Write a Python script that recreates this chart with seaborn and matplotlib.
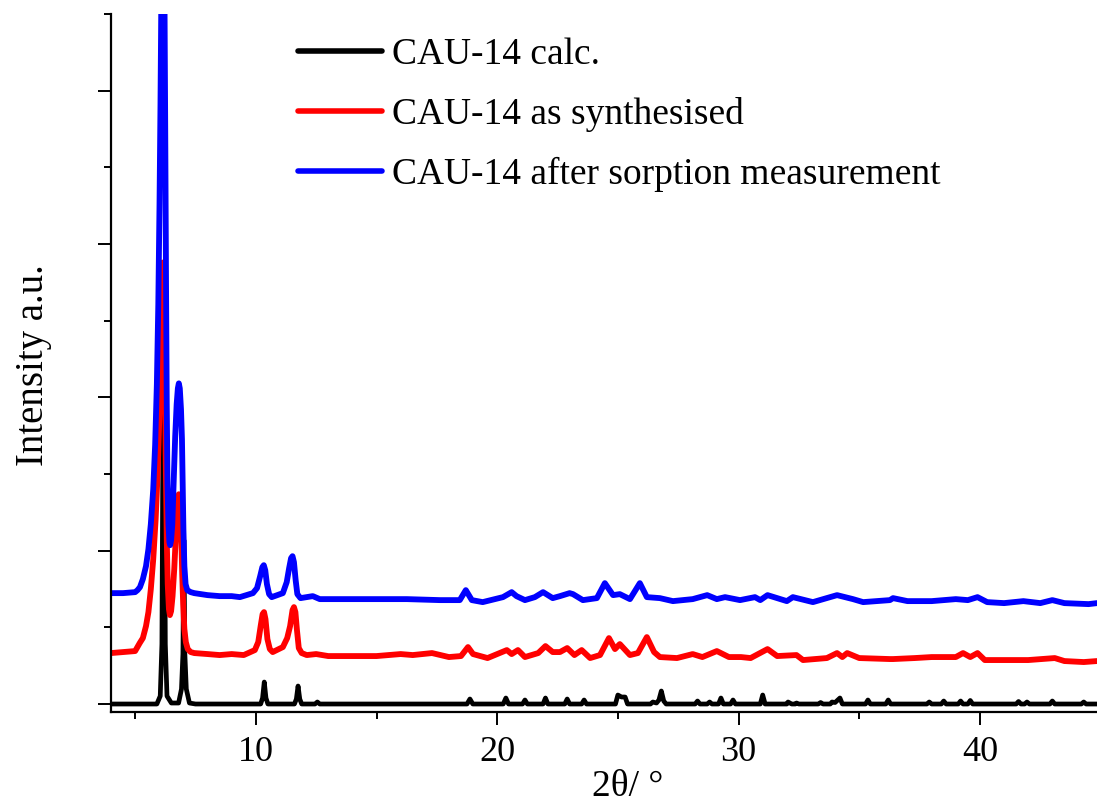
import matplotlib
matplotlib.use("Agg")
import matplotlib.pyplot as plt
import numpy as np
import pandas as pd
import seaborn as sns
from matplotlib.lines import Line2D
from matplotlib.ticker import MultipleLocator

# ---------------- data (2theta in degrees, intensity in a.u., stacked as plotted) ----------------
calc_2theta = [4.0, 5.9, 6.04, 6.11, 6.18, 6.25, 6.32, 6.5, 6.8, 6.92, 6.98, 7.02, 7.06, 7.12, 7.25, 7.5,
               10.2, 10.28, 10.35, 10.42, 10.5, 11.6, 11.68, 11.75, 11.82, 11.9, 12.45, 12.55, 12.65,
               18.75, 18.87, 18.99, 20.25, 20.36, 20.47, 21.05, 21.15, 21.25, 21.9, 22.0, 22.1,
               22.8, 22.9, 23.0, 23.5, 23.6, 23.7, 24.9, 25.0, 25.15, 25.3, 25.4,
               26.35, 26.45, 26.6, 26.7, 26.8, 26.9, 27.0, 28.2, 28.3, 28.4, 28.7, 28.8, 28.9,
               29.17, 29.27, 29.37, 29.67, 29.77, 29.87, 30.9, 31.0, 31.1, 32.0, 32.05, 32.2,
               32.35, 32.4, 32.5, 33.3, 33.4, 33.5, 33.8, 33.87, 34.0, 34.2, 34.3,
               35.26, 35.36, 35.46, 36.1, 36.2, 36.3, 37.8, 37.9, 38.0, 38.4, 38.5, 38.6,
               39.1, 39.2, 39.3, 39.5, 39.6, 39.7, 41.5, 41.6, 41.7, 41.85, 41.95, 42.05,
               42.9, 43.0, 43.1, 44.2, 44.3, 44.4, 45.0]
calc_int = [0, 0, 8, 60, 420, 60, 8, 1, 1, 15, 50, 164, 50, 15, 1, 0,
            0, 6, 22, 6, 0, 0, 5, 18, 5, 0, 0, 2, 0,
            0, 5, 0, 0, 6, 0, 0, 4, 0, 0, 6, 0,
            0, 5, 0, 0, 4, 0, 0, 9, 7, 7, 0,
            0, 2, 1, 4, 13, 3, 0, 0, 3, 0, 0, 2, 0,
            0, 6, 0, 0, 4, 0, 0, 9, 0, 0, 2, 0,
            0, 1, 0, 0, 1.5, 0, 0, 2, 1.5, 6, 0,
            0, 4, 0, 0, 4, 0, 0, 2, 0, 0, 3, 0,
            0, 3, 0, 0, 3.5, 0, 0, 2.5, 0, 0, 2, 0,
            0, 3, 0, 0, 2, 0, 0]

synth_2theta = [4.0, 4.5, 5.0, 5.19, 5.32, 5.45, 5.55, 5.65, 5.75, 5.85, 5.93, 6.0, 6.06, 6.11, 6.15,
                6.19, 6.23, 6.27, 6.31, 6.35, 6.4, 6.44, 6.49, 6.55, 6.62, 6.69, 6.75, 6.81, 6.86,
                6.91, 6.95, 6.99, 7.04, 7.1, 7.18, 7.3, 7.45,
                8.0, 8.5, 9.0, 9.5, 9.96, 10.1, 10.2, 10.28, 10.34, 10.4, 10.48, 10.58, 10.7,
                11.12, 11.3, 11.42, 11.52, 11.58, 11.64, 11.7, 11.78, 11.9,
                12.11, 12.5, 13.0, 14.0, 15.0, 16.0, 16.5, 17.3, 18.0, 18.5, 18.79, 19.0,
                19.6, 20.4, 20.6, 20.86, 21.15, 21.7, 22.0, 22.3, 22.6, 22.9, 23.2, 23.5, 23.85,
                24.26, 24.63, 24.88, 25.08, 25.5, 25.83, 26.2, 26.5, 26.74, 27.45, 28.1, 28.5,
                29.1, 29.6, 30.1, 30.5, 31.2, 31.6, 32.4, 32.67, 33.66, 34.08, 34.3, 34.5, 35.0,
                36.27, 36.4, 37.3, 38.0, 39.0, 39.3, 39.6, 39.9, 40.2, 41.0, 42.0, 43.1, 43.5,
                44.3, 44.85]
synth_int = [51, 52, 53, 61, 66, 78, 92, 115, 145, 185, 230, 285, 350, 410, 442,
             410, 330, 240, 165, 120, 95, 89, 93, 108, 135, 170, 198, 210, 200,
             170, 130, 100, 75, 62, 55, 52, 51,
             50, 49, 50, 49, 54, 62, 78, 90, 92, 85, 65, 55, 52,
             57, 66, 78, 94, 97, 92, 75, 56, 51,
             49, 50, 48, 48, 48, 50, 49, 51, 47, 48, 57, 50,
             46, 54, 50, 54, 47, 51, 58, 52, 52, 56, 49, 54, 46,
             49, 66, 55, 60, 49, 51, 67, 52, 47, 46, 50, 47,
             53, 47, 47, 46, 55, 48, 49, 44, 46, 51, 47, 51, 46,
             45, 45, 46, 47, 47, 51, 47, 51, 44, 44, 44, 46, 43,
             42, 43]

sorp_2theta = [4.0, 4.5, 5.0, 5.1, 5.2, 5.32, 5.45, 5.55, 5.65, 5.75, 5.83, 5.9, 5.96, 6.01, 6.05,
               6.08, 6.15, 6.22, 6.25, 6.28, 6.31, 6.34, 6.38, 6.42, 6.45, 6.49, 6.54, 6.6, 6.66,
               6.72, 6.77, 6.81, 6.85, 6.9, 6.94, 6.97, 7.0, 7.04, 7.09, 7.16, 7.3, 7.45,
               8.0, 8.5, 9.0, 9.34, 9.88, 10.05, 10.18, 10.27, 10.33, 10.39, 10.46, 10.55, 10.66,
               11.12, 11.28, 11.38, 11.46, 11.52, 11.58, 11.65, 11.72, 11.85,
               12.36, 12.65, 14.85, 16.26, 17.63, 18.45,
               18.7, 18.95, 19.4, 20.24, 20.6, 20.8, 21.15, 21.56, 21.9, 22.3, 22.6, 23.0, 23.14,
               23.55, 24.13, 24.46, 24.8, 25.08, 25.5, 25.91, 26.2, 26.74, 27.28, 28.1, 28.7,
               29.1, 29.44, 30.06, 30.68, 30.9, 31.2, 32.0, 32.25, 33.08, 34.08, 34.74, 35.16,
               36.27, 36.4, 37.0, 38.0, 39.0, 39.5, 39.9, 40.3, 41.0, 41.8, 42.5, 43.0, 43.5,
               44.5, 44.85]
sorp_int = [111, 111, 112, 114, 117, 125, 138, 155, 180, 215, 260, 320, 400, 500, 600,
            690, 760, 690, 560, 420, 300, 220, 180, 162, 159, 164, 180, 225, 268,
            300, 316, 321, 316, 295, 265, 220, 175, 138, 120, 114, 112, 111,
            109, 108, 108, 107, 111, 116, 128, 137, 139, 134, 120, 110, 107,
            111, 122, 136, 146, 148, 142, 124, 110, 106,
            108, 105, 105, 105, 104, 104,
            114, 104, 102, 107, 112, 108, 104, 107, 112, 106, 108, 111, 110,
            104, 106, 121, 109, 110, 105, 121, 107, 106, 103, 105, 109,
            105, 107, 104, 107, 104, 109, 103, 107, 102, 109, 105, 102,
            104, 106, 103, 103, 105, 104, 107, 102, 101, 103, 101, 104, 101,
            100, 101]

labels = ["CAU-14 calc.", "CAU-14 as synthesised", "CAU-14 after sorption measurement"]
colors = ["#000000", "#FF0000", "#0000FF"]
x_ticks = [10, 20, 30, 40]

# ---------------- figure ----------------
sns.set_theme(style="ticks")
plt.rcParams["font.family"] = ["Liberation Serif", "DejaVu Serif"]
plt.rcParams["text.color"] = "black"
plt.rcParams["axes.labelcolor"] = "black"
plt.rcParams["xtick.color"] = "black"
plt.rcParams["ytick.color"] = "black"

W, H = 1097, 802
fig = plt.figure(figsize=(W / 100, H / 100), dpi=100)
ax = fig.add_axes([111 / W, (H - 711.7) / H, 986 / W, 697.7 / H])
ax.set_facecolor("white")

df = pd.concat([
    pd.DataFrame({"2theta": calc_2theta, "intensity": calc_int, "pattern": labels[0]}),
    pd.DataFrame({"2theta": synth_2theta, "intensity": synth_int, "pattern": labels[1]}),
    pd.DataFrame({"2theta": sorp_2theta, "intensity": sorp_int, "pattern": labels[2]}),
], ignore_index=True)

sns.lineplot(data=df, x="2theta", y="intensity", hue="pattern", hue_order=labels,
             palette=dict(zip(labels, colors)), estimator=None, sort=False,
             linewidth=4.2, legend=False, ax=ax)
for ln in ax.lines:
    ln.set_solid_joinstyle("round")
    ln.set_solid_capstyle("round")
ax.lines[0].set_linewidth(3.4)

ax.set_xlim(4.0, 44.85)
ax.set_ylim(-7.7, 690.75)
ax.set_xticks(x_ticks)
ax.set_xticklabels([str(t) for t in x_ticks])
ax.xaxis.set_minor_locator(MultipleLocator(5))
ax.yaxis.set_major_locator(MultipleLocator(153.5))
ax.yaxis.set_minor_locator(MultipleLocator(76.75))
ax.tick_params(axis="both", which="both", direction="out", color="black", width=1.4)
ax.tick_params(axis="both", which="major", length=9.5, labelsize=26, pad=8, labelcolor="black")
ax.tick_params(axis="both", which="minor", length=5)
ax.tick_params(axis="y", which="both", labelleft=False)

for side in ["top", "right"]:
    ax.spines[side].set_visible(False)
for side in ["left", "bottom"]:
    ax.spines[side].set_color("black")
    ax.spines[side].set_linewidth(1.6)

ax.set_xlabel("2θ/ °", fontsize=27, color="black")
ax.xaxis.set_label_coords(0.524, -0.083)
ax.set_ylabel("Intensity a.u.", fontsize=28, color="black")
ax.yaxis.set_label_coords(-0.06, 0.497)

handles = [Line2D([], [], color=c, lw=4.0) for c in colors]
leg = ax.legend(handles, labels, loc="upper left", bbox_to_anchor=(298 / W, 1 - 38 / H),
                bbox_transform=fig.transFigure, frameon=False, fontsize=27,
                handlelength=2.25, handletextpad=0.27, labelspacing=0.66,
                borderpad=0, borderaxespad=0)
for t in leg.get_texts():
    t.set_color("black")

fig.savefig("out.png", dpi=100, facecolor="white")
